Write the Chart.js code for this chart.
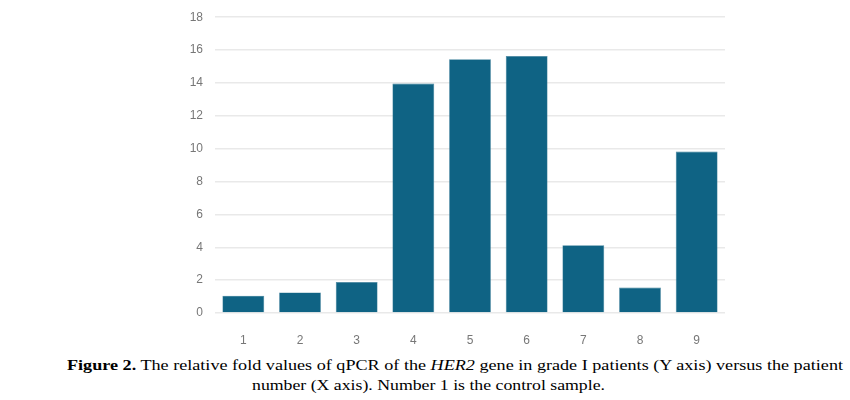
<!DOCTYPE html>
<html>
<head>
<meta charset="utf-8">
<script src="https://cdn.jsdelivr.net/npm/chart.js@4"></script>
<style>
  html, body { margin: 0; padding: 0; background: #fff; }
  body { width: 850px; height: 400px; position: relative; overflow: hidden; }
  #wrap { position: absolute; left: 0; top: -2px; width: 850px; height: 346px; }
  .cap { position: absolute; font-family: "Liberation Serif", "Times New Roman", serif;
         font-size: 15.5px; color: #000; white-space: nowrap; line-height: 20px;
         transform-origin: left top; }
</style>
</head>
<body>
<div id="wrap"><canvas id="chart"></canvas></div>
<div class="cap" id="cap1" data-w="776" style="left:67px; top:355px;"><b>Figure 2.</b> The relative fold values of qPCR of the <i>HER2</i> gene in grade I patients (Y axis) versus the patient</div>
<div class="cap" id="cap2" data-w="353" style="left:252px; top:375px;">number (X axis). Number 1 is the control sample.</div>
<script>
// patient numbers on x, fold values
const patients = ['1', '2', '3', '4', '5', '6', '7', '8', '9'];
const foldValues = [1.05, 1.25, 1.89, 13.96, 15.44, 15.64, 4.13, 1.55, 9.82];
const yTicks = [0, 2, 4, 6, 8, 10, 12, 14, 16, 18];

// stretch caption lines to the width they have in the figure
document.querySelectorAll('.cap').forEach(el => {
  const w = el.getBoundingClientRect().width;
  el.style.transform = `scaleX(${el.dataset.w / w})`;
});

const ctx = document.getElementById('chart').getContext('2d');
const tickFont = { family: 'Liberation Sans, Arial', size: 12 };

new Chart(ctx, {
  type: 'bar',
  data: {
    labels: patients,
    datasets: [{
      data: foldValues,
      backgroundColor: '#0f6384',
      borderColor: '#3d7f99',
      borderWidth: 0.6,
      barPercentage: 0.82,
      categoryPercentage: 0.9,
    }],
  },
  options: {
    responsive: true,
    maintainAspectRatio: false,
    animation: false,
    layout: { padding: { left: 180, right: 125, top: 12, bottom: 0 } },
    plugins: {
      legend: { display: false },
      tooltip: { enabled: false },
    },
    scales: {
      x: {
        grid: { display: false },
        border: { display: false },
        ticks: { color: '#777', font: tickFont, padding: 12 },
        afterFit: (s) => { s.height = 31; },
      },
      y: {
        min: 0,
        max: 18,
        afterBuildTicks: (s) => { s.ticks = yTicks.map(v => ({ value: v })); },
        grid: { color: '#e9e9e9', lineWidth: 1.5, drawTicks: false },
        border: { display: false },
        ticks: { color: '#777', font: tickFont, padding: 12 },
        afterFit: (s) => { s.width = 35; },
      },
    },
  },
});
</script>
</body>
</html>
